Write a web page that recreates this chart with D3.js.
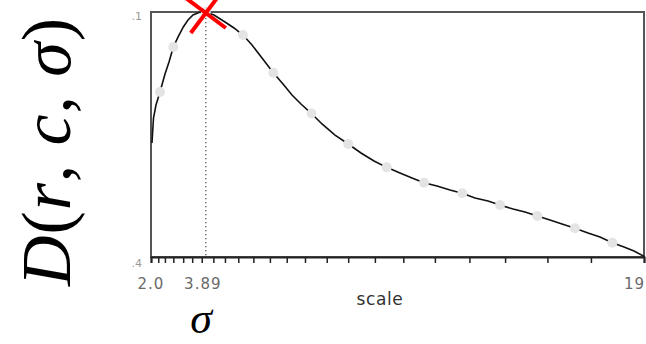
<!DOCTYPE html>
<html><head><meta charset="utf-8">
<script src="https://cdn.jsdelivr.net/npm/d3@7"></script>
<style>html,body{margin:0;padding:0;background:#fff;}svg{display:block;}</style>
</head><body>
<svg id="chart" width="646" height="344"></svg>
<script>
// ---- data ----
const curveScale = [2.034,2.086,2.172,2.310,2.483,2.621,2.769,2.931,3.114,3.276,3.448,3.655,3.89,4.172,4.552,4.862,5.172,5.483,5.828,6.217,6.552,6.862,7.172,7.534,7.897,8.345,8.803,9.241,9.690,10.128,10.586,11.000,11.414,11.862,12.310,12.734,13.172,13.621,14.034,14.483,14.897,15.321,15.759,16.172,16.621,17.069,17.483,17.907,18.310,18.655,18.983,19.0];
const curveD     = [2.656,2.932,3.075,3.218,3.417,3.549,3.714,3.824,3.935,4.012,4.067,4.094,4.100,4.067,3.990,3.924,3.846,3.736,3.593,3.431,3.306,3.185,3.086,2.981,2.866,2.744,2.645,2.546,2.458,2.388,2.326,2.271,2.219,2.182,2.138,2.102,2.050,2.017,1.973,1.929,1.896,1.852,1.808,1.764,1.716,1.664,1.620,1.558,1.510,1.466,1.411,1.400];
const dotScale = [2.310,2.769,3.89,5.172,6.217,7.534,8.803,10.128,11.414,12.734,14.034,15.321,16.621,17.907];
const dotD     = [3.218,3.714,4.100,3.846,3.431,2.981,2.645,2.388,2.219,2.102,1.973,1.852,1.716,1.558];
const tickScales = [2.00,2.25,2.48,2.77,3.11,3.42,3.75,4.15,4.55,5.01,5.53,6.10,6.68,7.31,8.06,8.80,9.72,10.70,11.79,12.98,14.21,15.67,17.17,19.0];
const xTickLabels = [{v:2.0,t:"2.0"},{v:3.89,t:"3.89"},{v:19,t:"19"}];
const yTickLabels = [{v:4.1,t:"4.1"},{v:1.4,t:"1.4"}];
const peakScale = 3.89, peakD = 4.10;
const xDomain = [2, 19], yDomain = [1.4, 4.1];

// ---- layout ----
const svg = d3.select("#chart");
const L = 151, R = 644, T = 12, B = 257;
const x = d3.scaleLinear().domain(xDomain).range([L, R]);
const y = d3.scaleLinear().domain(yDomain).range([B, T]);

// frame
svg.append("rect").attr("x", L).attr("y", T).attr("width", R - L).attr("height", B - T)
  .attr("fill", "#fff").attr("stroke", "#555").attr("stroke-width", 2);

// dotted vertical line at peak
svg.append("line").attr("x1", x(peakScale)).attr("x2", x(peakScale))
  .attr("y1", T + 2).attr("y2", B)
  .attr("stroke", "#555").attr("stroke-width", 1.3).attr("stroke-dasharray", "1.3,2.7");

// x axis ticks
const xAxis = d3.axisBottom(x).tickValues(tickScales).tickSize(6).tickFormat("");
const gx = svg.append("g").attr("transform", `translate(0,${B})`).call(xAxis);
gx.select(".domain").attr("stroke", "#222").attr("stroke-width", 2);
gx.selectAll(".tick line").attr("stroke", "#222").attr("stroke-width", 1.5);

// x tick labels
svg.selectAll("text.xl").data(xTickLabels).enter().append("text")
  .attr("class", "xl")
  .attr("x", d => d.v === 19 ? x(d.v) + 1 : x(d.v) - (d.v === 3.89 ? 3 : 0))
  .attr("y", 289)
  .attr("text-anchor", d => d.v === 19 ? "end" : "middle")
  .attr("font-family", "DejaVu Sans, sans-serif").attr("font-size", 15)
  .attr("letter-spacing", 1)
  .attr("fill", "#6a6a6a").text(d => d.t);

// y tick labels (clipped at left like reference)
const defs = svg.append("defs");
defs.append("clipPath").attr("id", "ylc").append("rect")
  .attr("x", 131).attr("y", 0).attr("width", 20).attr("height", 344);
svg.append("g").attr("clip-path", "url(#ylc)")
  .selectAll("text").data(yTickLabels).enter().append("text")
  .attr("x", 142).attr("y", d => y(d.v) + (d.v === 4.1 ? 8 : 10))
  .attr("text-anchor", "end")
  .attr("font-family", "DejaVu Sans, sans-serif").attr("font-size", 11)
  .attr("fill", "#999").text(d => d.t);

// x axis title
svg.append("text").attr("x", 380).attr("y", 305).attr("text-anchor", "middle")
  .attr("font-family", "DejaVu Sans, sans-serif").attr("font-size", 17)
  .attr("letter-spacing", 0.6)
  .attr("fill", "#333").text("scale");

// curve
const pts = curveScale.map((s, i) => [s, curveD[i]]);
const line = d3.line().x(d => x(d[0])).y(d => y(d[1]));
svg.append("path").datum(pts).attr("d", line)
  .attr("fill", "none").attr("stroke", "#111").attr("stroke-width", 1.6);

// grey sample dots
svg.selectAll("circle.dot").data(dotScale.map((s, i) => [s, dotD[i]])).enter()
  .append("circle").attr("class", "dot")
  .attr("cx", d => x(d[0])).attr("cy", d => y(d[1])).attr("r", 5)
  .attr("fill", "#e4e4e4");

// red X at peak
const cx = x(peakScale), cy = y(peakD) + 1, a = 20;
const gX = svg.append("g").attr("stroke", "#ff0000").attr("stroke-width", 4).attr("stroke-linecap", "butt");
gX.append("line").attr("x1", cx - a).attr("y1", cy - a * 0.75).attr("x2", cx + a).attr("y2", cy + a * 0.75);
gX.append("line").attr("x1", cx - a * 0.75).attr("y1", cy + a).attr("x2", cx + a * 0.75).attr("y2", cy - a);

// big y title D(r,c,σ)
const yt = svg.append("text")
  .attr("transform", "translate(70,152) rotate(-90)")
  .attr("text-anchor", "middle")
  .attr("font-family", "Liberation Serif, DejaVu Serif, serif")
  .attr("font-size", 70).attr("fill", "#000")
  .attr("textLength", 268).attr("lengthAdjust", "spacing");
yt.append("tspan").attr("font-style", "italic").text("D");
yt.append("tspan").text("(");
yt.append("tspan").attr("font-style", "italic").text("r");
yt.append("tspan").text(", ");
yt.append("tspan").attr("font-style", "italic").text("c");
yt.append("tspan").text(", ");
yt.append("tspan").attr("font-style", "italic").text("σ");
yt.append("tspan").text(")");

// σ under axis
svg.append("text").attr("x", 201).attr("y", 333).attr("text-anchor", "middle")
  .attr("font-family", "Liberation Serif, DejaVu Serif, serif")
  .attr("font-style", "italic").attr("font-size", 44).attr("fill", "#000")
  .text("σ");
</script>
</body></html>
